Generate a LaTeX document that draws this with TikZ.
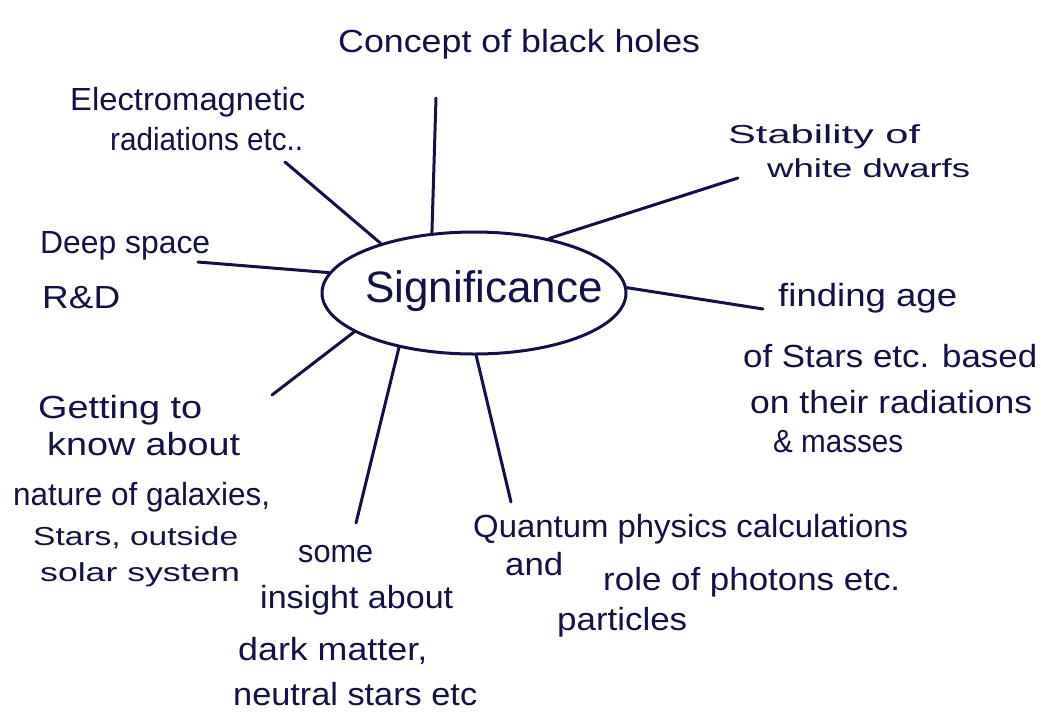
\documentclass[tikz,border=0pt]{standalone}
\usepackage{fontspec}
\setmainfont{Liberation Sans}
\usetikzlibrary{shapes.geometric}
\definecolor{ink}{RGB}{18,18,72}
% set a line of text to a given width, keeping its height
\newcommand{\wline}[2]{\resizebox{#1pt}{\height}{#2}}

\begin{document}
\begin{tikzpicture}[x=1pt,y=-1pt,
  hand/.style={anchor=base west, inner sep=0pt, text=ink, font=\fontsize{32}{38}\selectfont},
  small/.style={font=\fontsize{26}{30}\selectfont},
  spoke/.style={draw=ink, line width=3pt, line cap=round},
  hub/.style={ellipse, draw=ink, line width=3pt, minimum width=304pt,
              minimum height=122pt, inner sep=0pt}]
\useasboundingbox (0,0) rectangle (1041,713);
\fill[white] (0,0) rectangle (1041,713);

% central idea
\node[hub] (sig) at (474,293) {};
\node[text=ink, inner sep=0pt, font=\fontsize{44}{52}\selectfont] (sigtext) at (484,291) {Significance};

% free ends of the spokes
\coordinate (eConcept) at (436,98);
\coordinate (eEmag)    at (285,162);
\coordinate (eStab)    at (738,178);
\coordinate (eDeep)    at (198,262);
\coordinate (eAge)     at (763,309);
\coordinate (eGal)     at (272,395);
\coordinate (eDark)    at (356,523);
\coordinate (eQuant)   at (511,502);

\draw[spoke] (sig.125)   -- (eConcept);
\draw[spoke] (sig.152)   -- (eEmag);
\draw[spoke] (sig.36.6)  -- (eStab);
\draw[spoke] (sig.172)   -- (eDeep);
\draw[spoke] (sig.2)     -- (eAge);
\draw[spoke] (sig.198.6) -- (eGal);
\draw[spoke] (sig.216.5) -- (eDark);
\draw[spoke] (sig.272.5) -- (eQuant);

% top
\node[hand] (concept) at (338,52) {\wline{362}{Concept of black holes}};

% upper left
\node[hand] (emagA) at (70,110)  {\wline{235}{Electromagnetic}};
\node[hand] (emagB) at (110,150) {\wline{193}{radiations etc..}};

% upper right
\node[hand, small] (stabA) at (728,143) {\wline{192}{Stability of}};
\node[hand, small] (stabB) at (767,177) {\wline{203}{white dwarfs}};

% left
\node[hand] (deepA) at (40,253) {\wline{170}{Deep space}};
\node[hand] (deepB) at (42,308) {\wline{78}{R\&D}};

% right
\node[hand] (ageA) at (778,306) {\wline{179}{finding age}};
\node[hand] (ageB) at (743,367) {\wline{294}{of Stars etc. based}};
\node[hand] (ageC) at (750,413) {\wline{282}{on their radiations}};
\node[hand] (ageD) at (773,452) {\wline{130}{\& masses}};

% lower left
\node[hand] (galA) at (38,418) {\wline{164}{Getting to}};
\node[hand] (galB) at (47,455) {\wline{193}{know about}};
\node[hand] (galC) at (13,505) {\wline{257}{nature of galaxies,}};
\node[hand, small] (galD) at (33,545) {\wline{205}{Stars, outside}};
\node[hand, small] (galE) at (40,581) {\wline{200}{solar system}};

% bottom
\node[hand] (darkA) at (298,562) {\wline{75}{some}};
\node[hand] (darkB) at (260,608) {\wline{193}{insight about}};
\node[hand] (darkC) at (238,660) {\wline{189}{dark matter,}};
\node[hand] (darkD) at (233,705) {\wline{244}{neutral stars etc}};

% lower right
\node[hand] (quantA) at (473,537) {\wline{435}{Quantum physics calculations}};
\node[hand] (quantB) at (505,575) {\wline{58}{and}};
\node[hand] (quantC) at (603,590) {\wline{297}{role of photons etc.}};
\node[hand] (quantD) at (557,630) {\wline{130}{particles}};
\end{tikzpicture}
\end{document}
